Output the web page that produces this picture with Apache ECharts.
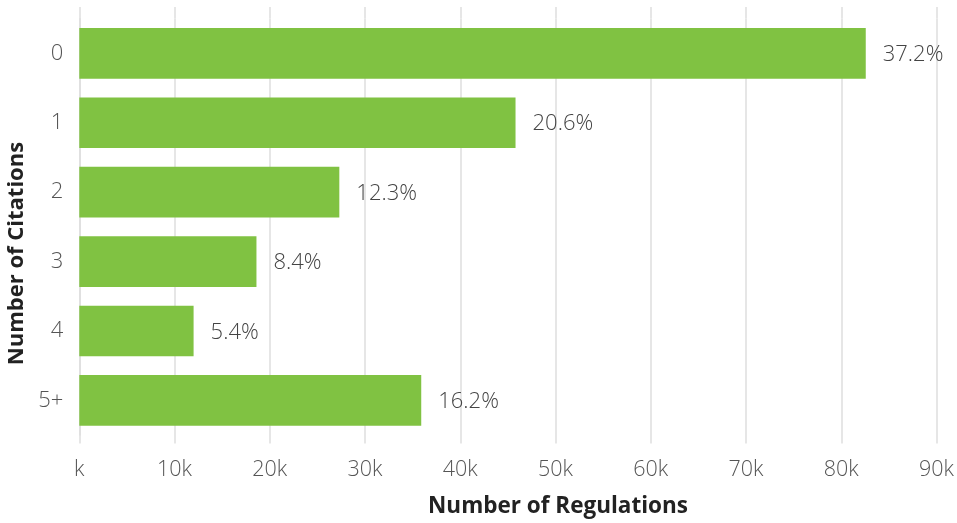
<!DOCTYPE html>
<html>
<head>
<meta charset="utf-8">
<script src="https://cdn.jsdelivr.net/npm/echarts@6/dist/echarts.min.js"></script>
<style>
html,body{margin:0;padding:0;background:#fff;}
#c{width:957px;height:523px;}
</style>
</head>
<body>
<div id="c"></div>
<script>
const categories = ['0', '1', '2', '3', '4', '5+'];
const regulations = [82570, 45800, 27300, 18600, 12000, 35900];
const shareLabels = ['37.2%', '20.6%', '12.3%', '8.4%', '5.4%', '16.2%'];
const xTickLabels = ['k', '10k', '20k', '30k', '40k', '50k', '60k', '70k', '80k', '90k'];

const FONT = '"Open Sans", "Noto Sans", sans-serif';
const GRID_COLOR = '#dedede';

const chart = echarts.init(document.getElementById('c'), null, {renderer: 'canvas'});
chart.setOption({
  animation: false,
  grid: {left: 79.3, right: 17, top: 18.6, height: 416.5, containLabel: false},
  xAxis: [{
    type: 'value', min: 0, max: 90000, interval: 10000, position: 'bottom',
    axisLine: {show: false},
    axisTick: {show: true, length: 8.5, lineStyle: {color: GRID_COLOR, width: 1.5}},
    splitLine: {show: true, lineStyle: {color: GRID_COLOR, width: 1.5}},
    axisLabel: {
      margin: 24, color: '#555', fontFamily: FONT, fontSize: 21.5, fontWeight: 300,
      formatter: (v) => xTickLabels[Math.round(v / 10000)]
    }
  }, {
    type: 'value', min: 0, max: 90000, interval: 10000, position: 'top',
    axisLine: {show: false},
    axisTick: {show: true, length: 11.6, lineStyle: {color: GRID_COLOR, width: 1.5}},
    splitLine: {show: false},
    axisLabel: {show: false}
  }],
  yAxis: {
    type: 'category', data: categories, inverse: true,
    axisLine: {show: true, lineStyle: {color: GRID_COLOR, width: 1.5}},
    axisTick: {show: false},
    axisLabel: {margin: 16, color: '#555', fontFamily: FONT, fontSize: 22, fontWeight: 300}
  },
  series: [{
    type: 'bar', data: regulations, xAxisIndex: 0,
    barCategoryGap: '27%',
    itemStyle: {color: '#80c242'},
    label: {
      show: true, position: 'right', distance: 17, offset: [0, 1.5],
      color: '#444', fontFamily: FONT, fontSize: 22, fontWeight: 300,
      formatter: (p) => shareLabels[p.dataIndex]
    }
  }],
  graphic: [{
    type: 'text',
    x: 558, y: 507,
    style: {
      text: 'Number of Regulations', x: 0, y: 0,
      textAlign: 'center', textVerticalAlign: 'middle',
      fill: '#222', font: 'bold 22.5px ' + FONT
    }
  }, {
    type: 'text',
    x: 17, y: 253.5, rotation: Math.PI / 2,
    style: {
      text: 'Number of Citations', x: 0, y: 0,
      textAlign: 'center', textVerticalAlign: 'middle',
      fill: '#222', font: 'bold 22px ' + FONT
    }
  }]
});
</script>
</body>
</html>
